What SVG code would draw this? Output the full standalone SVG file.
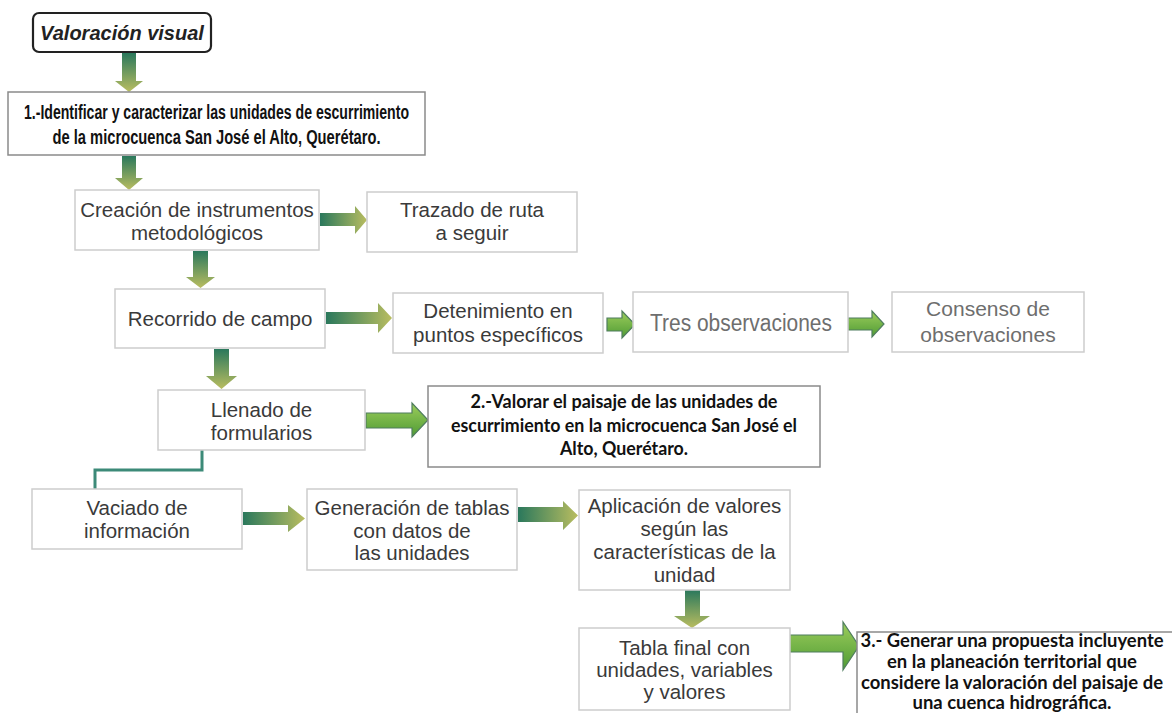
<svg xmlns="http://www.w3.org/2000/svg" width="1172" height="713" viewBox="0 0 1172 713">
<defs>
<linearGradient id="gv" x1="0" y1="0" x2="0" y2="1"><stop offset="0" stop-color="#2a785c"/><stop offset="1" stop-color="#b9bd60"/></linearGradient>
<linearGradient id="gh" x1="0" y1="0" x2="1" y2="0"><stop offset="0" stop-color="#2a785c"/><stop offset="1" stop-color="#b9bd60"/></linearGradient>
<linearGradient id="gb" x1="0" y1="0" x2="0" y2="1"><stop offset="0" stop-color="#9ccd5c"/><stop offset="1" stop-color="#4f9b34"/></linearGradient>
<style>
.box{fill:#fff;stroke:#cdcdcd;stroke-width:1.5}
.kbox{fill:#fff;stroke:#8a8a8a;stroke-width:1.5}
.t{font-family:"Liberation Sans",Arial,sans-serif;font-size:20.5px;fill:#3a3a3a;text-anchor:middle}
.tl{font-family:"Liberation Sans",Arial,sans-serif;fill:#6e6e6e;text-anchor:middle}
.tb{font-family:"Liberation Sans Narrow","Liberation Sans",Arial,sans-serif;font-stretch:condensed;font-weight:bold;font-size:20px;fill:#111;text-anchor:middle}
.tc{font-family:Lato,"Open Sans",sans-serif;font-weight:bold;font-size:18px;fill:#111;text-anchor:middle}
.av{fill:url(#gv)}
.ah{fill:url(#gh)}
.ab{fill:url(#gb);stroke:#4f7d5e;stroke-width:1.2}
</style>
</defs>

<g id="connectors">
<polygon class="av" points="122,53 136,53 136,81 143,81 129,92 115,81 122,81"/>
<polygon class="av" points="122,156 136,156 136,178 143,178 129,190 115,178 122,178"/>
<polygon class="ah" points="320,213 355,213 355,206 367,220 355,234 355,226 320,226"/>
<polygon class="av" points="193,251 208,251 208,277 215,277 200.5,288 186,277 193,277"/>
<polygon class="ah" points="326,312 378,312 378,303 392,318 378,333 378,324 326,324"/>
<polygon class="ab" points="607,318 622,318 622,311 635,324.5 622,338 622,331 607,331"/>
<polygon class="ab" points="848,318 872,318 872,311 884,324 872,337 872,330 848,330"/>
<polygon class="av" points="214,349 229,349 229,376 237,376 221.5,389 206,376 214,376"/>
<polygon class="ab" points="366,413 412,413 412,403 428,420 412,437 412,428 366,428"/>
<path d="M202,450 V470 H95 V489" fill="none" stroke="#3c8a78" stroke-width="3"/>
<polygon class="ah" points="243,512 288,512 288,505 305,518.5 288,532 288,525 243,525"/>
<polygon class="ah" points="518,507 563,507 563,501 578,515.5 563,530 563,522 518,522"/>
<polygon class="av" points="685,590 700,590 700,616 710,616 692,628 674,616 685,616"/>
<polygon class="ab" points="787,635 843,635 843,622 859,646 843,670 843,652 787,652"/>
</g>

<g id="n-valoracion">
<rect x="33" y="13" width="178" height="39" rx="6" fill="#fff" stroke="#222" stroke-width="2.2"/>
<text x="122" y="40" font-family="Liberation Sans,Arial,sans-serif" font-weight="bold" font-style="italic" font-size="20" fill="#222" text-anchor="middle">Valoración visual</text>
</g>

<g id="n-obj1">
<rect class="kbox" x="8" y="92" width="417" height="63"/>
<text class="tb" x="216.5" y="119" textLength="385" lengthAdjust="spacingAndGlyphs">1.-Identificar y caracterizar las unidades de escurrimiento</text>
<text class="tb" x="216.5" y="144" textLength="328" lengthAdjust="spacingAndGlyphs">de la microcuenca San José el Alto, Querétaro.</text>
</g>

<g id="n-creacion">
<rect class="box" x="75" y="190" width="244" height="60"/>
<text class="t" x="197" y="217">Creación de instrumentos</text>
<text class="t" x="197" y="240">metodológicos</text>
</g>

<g id="n-trazado">
<rect class="box" x="367" y="192" width="210" height="60"/>
<text class="t" x="472" y="217">Trazado de ruta</text>
<text class="t" x="472" y="240">a seguir</text>
</g>

<g id="n-recorrido">
<rect class="box" x="115" y="289" width="210" height="59"/>
<text class="t" x="220" y="326">Recorrido de campo</text>
</g>

<g id="n-detenimiento">
<rect class="box" x="393" y="293" width="210" height="60"/>
<text class="t" x="498" y="318">Detenimiento en</text>
<text class="t" x="498" y="342">puntos específicos</text>
</g>

<g id="n-tres">
<rect class="box" x="633" y="292" width="215" height="60"/>
<text class="tl" x="741" y="331" font-size="23" textLength="182" lengthAdjust="spacingAndGlyphs">Tres observaciones</text>
</g>

<g id="n-consenso">
<rect class="box" x="892" y="292" width="192" height="60"/>
<text class="tl" x="988" y="316" font-size="21">Consenso de</text>
<text class="tl" x="988" y="342" font-size="21">observaciones</text>
</g>

<g id="n-llenado">
<rect class="box" x="158" y="390" width="207" height="60"/>
<text class="t" x="261.5" y="417">Llenado de</text>
<text class="t" x="261.5" y="440">formularios</text>
</g>

<g id="n-obj2">
<rect class="kbox" x="428" y="386" width="392" height="81"/>
<text class="tc" x="624" y="408" textLength="307" lengthAdjust="spacingAndGlyphs">2.-Valorar el paisaje de las unidades de</text>
<text class="tc" x="624" y="432" textLength="346" lengthAdjust="spacingAndGlyphs">escurrimiento en la microcuenca San José el</text>
<text class="tc" x="624" y="455" textLength="128" lengthAdjust="spacingAndGlyphs">Alto, Querétaro.</text>
</g>

<g id="n-vaciado">
<rect class="box" x="32" y="489" width="210" height="60"/>
<text class="t" x="137" y="515">Vaciado de</text>
<text class="t" x="137" y="538">información</text>
</g>

<g id="n-generacion">
<rect class="box" x="307" y="489" width="210" height="81"/>
<text class="t" x="412" y="515">Generación de tablas</text>
<text class="t" x="412" y="538">con datos de</text>
<text class="t" x="412" y="560">las unidades</text>
</g>

<g id="n-aplicacion">
<rect class="box" x="579" y="490" width="211" height="100"/>
<text class="t" x="684.5" y="513">Aplicación de valores</text>
<text class="t" x="684.5" y="536">según las</text>
<text class="t" x="684.5" y="559">características de la</text>
<text class="t" x="684.5" y="582">unidad</text>
</g>

<g id="n-tabla">
<rect class="box" x="579" y="628" width="211" height="82"/>
<text class="t" x="684.5" y="655">Tabla final con</text>
<text class="t" x="684.5" y="677">unidades, variables</text>
<text class="t" x="684.5" y="699">y valores</text>
</g>

<g id="n-obj3">
<rect class="kbox" x="857" y="632" width="330" height="95"/>
<text class="tc" x="1012" y="647" textLength="303" lengthAdjust="spacingAndGlyphs">3.- Generar una propuesta incluyente</text>
<text class="tc" x="1012" y="668" textLength="250" lengthAdjust="spacingAndGlyphs">en la planeación territorial que</text>
<text class="tc" x="1012" y="689" textLength="302" lengthAdjust="spacingAndGlyphs">considere la valoración del paisaje de</text>
<text class="tc" x="1012" y="709" textLength="199" lengthAdjust="spacingAndGlyphs">una cuenca hidrográfica.</text>
</g>
</svg>
